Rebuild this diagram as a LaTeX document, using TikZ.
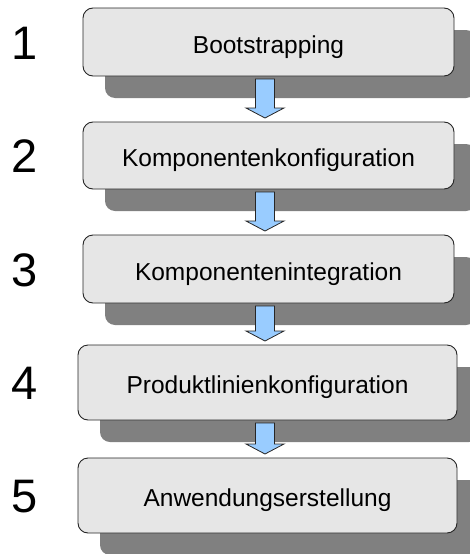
\documentclass[tikz,border=0pt]{standalone}
\usepackage{fontspec}
\setmainfont{Liberation Sans}
\usetikzlibrary{calc,shadows}
\definecolor{boxfill}{HTML}{E6E6E6}
\definecolor{shadowgray}{HTML}{808080}
\definecolor{arrowblue}{HTML}{99CCFF}
\begin{document}
\begin{tikzpicture}[x=1pt,y=-1pt,
  stepbox/.style={draw=black!85, line width=0.9pt, fill=boxfill,
    rounded corners=10pt, outer sep=0pt, inner sep=0pt,
    text height=22pt, text depth=0pt,
    font=\fontsize{24.5}{29}\selectfont,
    drop shadow={shadow xshift=22pt, shadow yshift=-22pt,
      fill=shadowgray, opacity=1}},
  stepnum/.style={anchor=base west, inner sep=0pt, outer sep=0pt,
    font=\fontsize{47}{56}\selectfont},
  flowarrow/.style={draw=black!85, line width=0.8pt, fill=arrowblue,
    line join=miter}]
\useasboundingbox (0,0) rectangle (470,554);

% process steps
\node[stepbox, minimum width=371pt, minimum height=68pt] (b1) at (268.5,42) {Bootstrapping};
\node[stepbox, minimum width=371pt, minimum height=67pt] (b2) at (268.5,155.5) {Komponentenkonfiguration};
\node[stepbox, minimum width=371pt, minimum height=68pt] (b3) at (268.5,269) {Komponentenintegration};
\node[stepbox, minimum width=379pt, minimum height=75pt] (b4) at (267.5,382.5) {Produktlinienkonfiguration};
\node[stepbox, minimum width=379pt, minimum height=75pt] (b5) at (267.5,495.5) {Anwendungserstellung};

% step numbers
\node[stepnum] (n1) at (11,59) {1};
\node[stepnum] (n2) at (11,172.5) {2};
\node[stepnum] (n3) at (11,286) {3};
\node[stepnum] (n4) at (11,399.5) {4};
\node[stepnum] (n5) at (11,512.5) {5};

% block arrows between consecutive steps
\coordinate (axis) at (265,0);
\foreach \a/\b in {b1/b2, b2/b3, b3/b4, b4/b5}{
  \draw[flowarrow]
    ($(\a.south -| axis)+(-9.5,3)$) -- ($(\a.south -| axis)+(9.5,3)$)
    -- ($(\b.north -| axis)+(9.5,-14)$) -- ($(\b.north -| axis)+(19,-14)$)
    -- ($(\b.north -| axis)+(0,-4)$) -- ($(\b.north -| axis)+(-19,-14)$)
    -- ($(\b.north -| axis)+(-9.5,-14)$) -- cycle;
}
\end{tikzpicture}
\end{document}
